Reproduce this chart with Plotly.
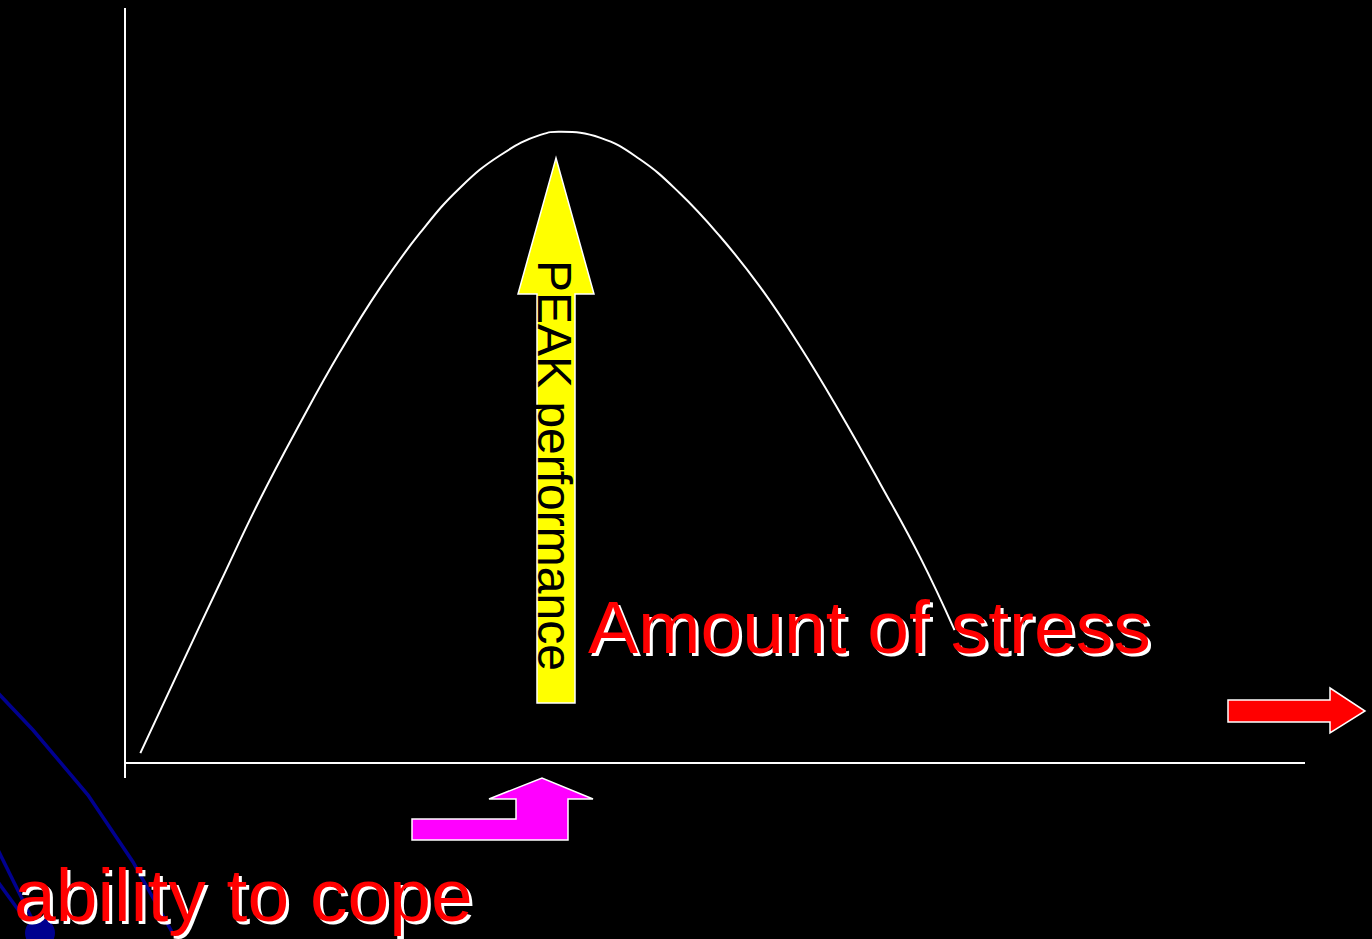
import plotly.graph_objects as go

# ---- data (stress vs performance curve) ----
stress = [1.3, 4.7, 8.1, 11.4, 14.8, 18.2, 21.6, 25.0, 28.4, 31.8, 35.2, 37.0,
          40.3, 43.6, 47.0, 50.4, 53.8, 57.2, 60.6, 64.0, 67.4, 70.3]
performance = [1.3, 12.7, 24.0, 34.8, 44.9, 54.4, 62.9, 70.2, 76.2, 80.5, 83.2, 83.6,
               82.8, 80.0, 75.5, 69.8, 63.1, 55.2, 46.4, 37.0, 27.2, 17.6]

peak_label = "PEAK performance"
x_label = "Amount of stress"
cope_label = "ability to cope"

W, H = 1372, 939
FONT = "Arial, 'Liberation Sans', sans-serif"

fig = go.Figure()

fig.add_trace(go.Scatter(
    x=stress, y=performance, mode="lines",
    line=dict(color="white", width=2, shape="spline", smoothing=1.3),
    hoverinfo="skip", showlegend=False, xaxis="x", yaxis="y"))

# dummy trace for pixel overlay axes
fig.add_trace(go.Scatter(x=[0], y=[0], mode="markers", marker=dict(opacity=0),
                         hoverinfo="skip", showlegend=False, xaxis="x2", yaxis="y2"))

shapes = []
P = dict(xref="x2", yref="y2")

# axes lines
shapes.append(dict(type="line", x0=125, x1=125, y0=8, y1=778,
                   line=dict(color="white", width=2), **P))
shapes.append(dict(type="line", x0=125, x1=1305, y0=763, y1=763,
                   line=dict(color="white", width=2), **P))

# blue decorative lines bottom-left
BLUE = "#00008f"
shapes.append(dict(type="path", path="M -2 693 L 33 730 L 88 795 L 133 862 L 172 932",
                   line=dict(color=BLUE, width=3.5), **P))
shapes.append(dict(type="path", path="M -2 850 L 35 925",
                   line=dict(color=BLUE, width=3.5), **P))
shapes.append(dict(type="path", path="M -2 882 L 22 915",
                   line=dict(color=BLUE, width=3.5), **P))
shapes.append(dict(type="circle", x0=25, x1=55, y0=918, y1=948,
                   fillcolor=BLUE, line=dict(width=0), **P))

# yellow up arrow
shapes.append(dict(type="path",
                   path="M 537 703 L 575 703 L 575 294 L 594 294 L 556 158 L 518 294 L 537 294 Z",
                   fillcolor="#ffff00", line=dict(color="white", width=1.5), **P))

# magenta bent arrow
shapes.append(dict(type="path",
                   path="M 412 840 L 568 840 L 568 799 L 593 799 L 542 778 L 489 799 L 516 799 L 516 819 L 412 819 Z",
                   fillcolor="#ff00ff", line=dict(color="white", width=1.5), **P))

# red right arrow
shapes.append(dict(type="path",
                   path="M 1228 700 L 1330 700 L 1330 688 L 1365 711 L 1330 733 L 1330 722 L 1228 722 Z",
                   fillcolor="#ff0000", line=dict(color="white", width=1.5), **P))

annotations = []


def shadow_text(text, x, y, size):
    annotations.append(dict(text=text, x=x + 3, y=y + 3, xref="x2", yref="y2",
                            xanchor="left", yanchor="middle", showarrow=False,
                            font=dict(family=FONT, size=size, color="white")))
    annotations.append(dict(text=text, x=x, y=y, xref="x2", yref="y2",
                            xanchor="left", yanchor="middle", showarrow=False,
                            font=dict(family=FONT, size=size, color="#ff0000")))


shadow_text(x_label, 586, 627, 75)
shadow_text(cope_label, 12, 895, 75)

annotations.append(dict(text=peak_label, x=555, y=465, xref="x2", yref="y2",
                        xanchor="center", yanchor="middle", showarrow=False,
                        textangle=90,
                        font=dict(family=FONT, size=48, color="black")))

fig.update_layout(
    width=W, height=H,
    margin=dict(l=0, r=0, t=0, b=0),
    paper_bgcolor="black", plot_bgcolor="rgba(0,0,0,0)",
    xaxis=dict(domain=[125 / W, 1305 / W], range=[0, 100], visible=False,
               fixedrange=True),
    yaxis=dict(domain=[(H - 763) / H, (H - 8) / H], range=[0, 100], visible=False,
               fixedrange=True),
    xaxis2=dict(domain=[0, 1], range=[0, W], visible=False, anchor="y2",
                fixedrange=True),
    yaxis2=dict(domain=[0, 1], range=[H, 0], visible=False, anchor="x2",
                fixedrange=True),
    shapes=shapes,
    annotations=annotations,
    showlegend=False,
)

fig.write_html(
    "out.html",
    config=dict(displayModeBar=False),
    post_script="document.body.style.margin='0';document.body.style.padding='0';"
                "document.body.style.background='black';",
)
